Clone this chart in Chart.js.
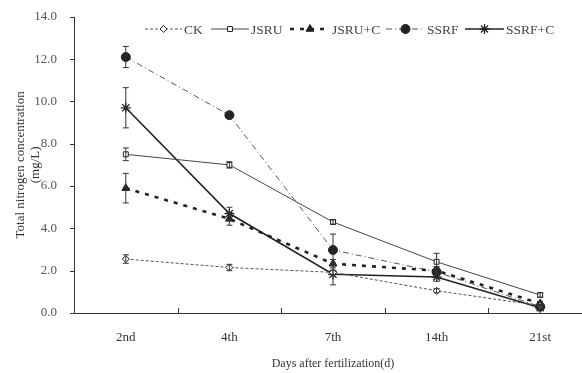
<!DOCTYPE html>
<html>
<head>
<meta charset="utf-8">
<script src="https://cdn.jsdelivr.net/npm/chart.js@4/dist/chart.umd.min.js"></script>
<style>
  html, body { margin: 0; padding: 0; background: #fff; overflow: hidden; }
  #wrap { width: 600px; height: 373px; }
</style>
</head>
<body>
<div id="wrap"><canvas id="nChart" width="600" height="373"></canvas></div>
<script>
// data
const days = ['2nd', '4th', '7th', '14th', '21st'];
const ck      = [2.55, 2.15, 1.92, 1.05, 0.35];
const jsru    = [7.5, 7.0, 4.3, 2.42, 0.85];
const jsruC   = [5.9, 4.45, 2.33, 2.0, 0.45];
const ssrf    = [12.1, 9.35, 2.98, 1.94, 0.3];
const ssrfC   = [9.7, 4.7, 1.83, 1.7, 0.25];
// standard errors
const ckErr    = [0.2, 0.15, 0.1, 0.1, 0.05];
const jsruErr  = [0.3, 0.15, 0.1, 0.4, 0.1];
const jsruCErr = [0.7, 0.3, 0.2, 0.2, 0.1];
const ssrfErr  = [0.5, 0.15, 0.75, 0.2, 0.1];
const ssrfCErr = [0.95, 0.3, 0.5, 0.2, 0.1];
const yTicks = [0, 2, 4, 6, 8, 10, 12, 14];

const ink = '#222';
const serif = '"Liberation Serif", "DejaVu Serif", serif';

function series(label, data, err, opt) {
    return Object.assign({
        label: label,
        data: data,
        err: err,
        borderColor: ink,
        backgroundColor: ink,
        pointBorderColor: ink,
        pointBorderWidth: 1,
        fill: false,
        tension: 0
    }, opt);
}

const datasets = [
    series('CK', ck, ckErr, { borderWidth: 1, borderDash: [3, 2], pointStyle: 'rectRot', pointRadius: 3.5, pointBackgroundColor: '#fff', borderColor: '#555' }),
    series('JSRU', jsru, jsruErr, { borderWidth: 1, pointStyle: 'rect', pointRadius: 3.5, pointBackgroundColor: '#fff', borderColor: '#444' }),
    series('JSRU+C', jsruC, jsruCErr, { borderWidth: 2.6, borderDash: [4, 6], pointStyle: 'triangle', pointRadius: 4.5, pointBackgroundColor: ink }),
    series('SSRF', ssrf, ssrfErr, { borderWidth: 1, borderDash: [6, 3, 1, 3], pointStyle: 'circle', pointRadius: 4.5, pointBackgroundColor: ink, borderColor: '#555' }),
    series('SSRF+C', ssrfC, ssrfCErr, { borderWidth: 1.6, pointStyle: 'star', pointRadius: 5, pointBackgroundColor: ink, pointBorderWidth: 1.3 })
];

// error bars drawn through the scales
const errorBars = {
    id: 'errorBars',
    afterDatasetsDraw(chart) {
        const ctx = chart.ctx;
        const y = chart.scales.y;
        ctx.save();
        ctx.strokeStyle = '#333';
        ctx.lineWidth = 1;
        chart.data.datasets.forEach((ds, i) => {
            const meta = chart.getDatasetMeta(i);
            meta.data.forEach((pt, j) => {
                const e = ds.err[j];
                if (!e) return;
                const top = y.getPixelForValue(ds.data[j] + e);
                const bot = y.getPixelForValue(ds.data[j] - e);
                ctx.beginPath();
                ctx.moveTo(pt.x, top); ctx.lineTo(pt.x, bot);
                ctx.moveTo(pt.x - 3, top); ctx.lineTo(pt.x + 3, top);
                ctx.moveTo(pt.x - 3, bot); ctx.lineTo(pt.x + 3, bot);
                ctx.stroke();
            });
        });
        ctx.restore();
    }
};

// axis lines, inward category ticks and the legend row
const frame = {
    id: 'frame',
    afterDraw(chart) {
        const ctx = chart.ctx;
        const a = chart.chartArea;
        const x = chart.scales.x;
        const y = chart.scales.y;
        ctx.save();
        ctx.strokeStyle = '#333';
        ctx.lineWidth = 1;
        ctx.beginPath();
        ctx.moveTo(a.left + 0.5, a.top);
        ctx.lineTo(a.left + 0.5, a.bottom + 0.5);
        ctx.lineTo(a.right, a.bottom + 0.5);
        yTicks.forEach(v => {
            const py = Math.round(y.getPixelForValue(v)) + 0.5;
            ctx.moveTo(a.left - 4, py); ctx.lineTo(a.left, py);
        });
        const w = x.getPixelForValue(1) - x.getPixelForValue(0);
        for (let i = 1; i < days.length; i++) {
            const px = Math.round(x.getPixelForValue(i) - w / 2) + 0.5;
            ctx.moveTo(px, a.bottom); ctx.lineTo(px, a.bottom - 5);
        }
        ctx.stroke();

        // legend
        const ly = 29;
        const items = [
            { ds: 0, x0: 145, x1: 182 },
            { ds: 1, x0: 211, x1: 249 },
            { ds: 2, x0: 290, x1: 330 },
            { ds: 3, x0: 386, x1: 425 },
            { ds: 4, x0: 465, x1: 504 }
        ];
        ctx.font = '13.5px ' + serif;
        ctx.textBaseline = 'middle';
        items.forEach(it => {
            const ds = chart.data.datasets[it.ds];
            ctx.save();
            ctx.strokeStyle = ds.borderColor;
            ctx.lineWidth = ds.borderWidth;
            ctx.setLineDash(ds.borderDash || []);
            ctx.beginPath();
            ctx.moveTo(it.x0, ly); ctx.lineTo(it.x1, ly);
            ctx.stroke();
            ctx.restore();
            ctx.save();
            ctx.fillStyle = ds.pointBackgroundColor;
            ctx.strokeStyle = ink;
            ctx.lineWidth = ds.pointBorderWidth;
            Chart.helpers.drawPoint(ctx, { pointStyle: ds.pointStyle, radius: ds.pointRadius, borderWidth: ds.pointBorderWidth }, (it.x0 + it.x1) / 2, ly);
            ctx.restore();
            ctx.fillStyle = '#444';
            ctx.fillText(ds.label, it.x1 + 2, ly + 1);
        });
        ctx.restore();
    }
};

new Chart(document.getElementById('nChart'), {
    type: 'line',
    data: { labels: days, datasets: datasets },
    options: {
        responsive: false,
        animation: false,
        layout: { padding: { top: 8, right: 8, left: 0, bottom: 0 } },
        plugins: { legend: { display: false }, tooltip: { enabled: false } },
        scales: {
            x: {
                offset: true,
                border: { display: false },
                grid: { display: false },
                ticks: { color: '#333', font: { family: serif, size: 13 }, padding: 9 },
                title: { display: true, text: 'Days after fertilization(d)', color: '#333', font: { family: serif, size: 12 }, padding: { top: 4, bottom: 2 } },
                afterFit(s) { s.height = 60; }
            },
            y: {
                min: 0, max: 14,
                border: { display: false },
                grid: { display: false },
                afterBuildTicks(s) { s.ticks = yTicks.map(v => ({ value: v })); },
                ticks: { color: '#555', font: { family: serif, size: 13 }, padding: 9, callback: v => v.toFixed(1) },
                title: { display: true, text: ['Total nitrogen concentration', '(mg/L)'], color: '#333', font: { family: serif, size: 13, lineHeight: 1.15 }, padding: { top: 13, bottom: 2 } },
                afterFit(s) { s.width = 74; }
            }
        }
    },
    plugins: [errorBars, frame]
});
</script>
</body>
</html>
